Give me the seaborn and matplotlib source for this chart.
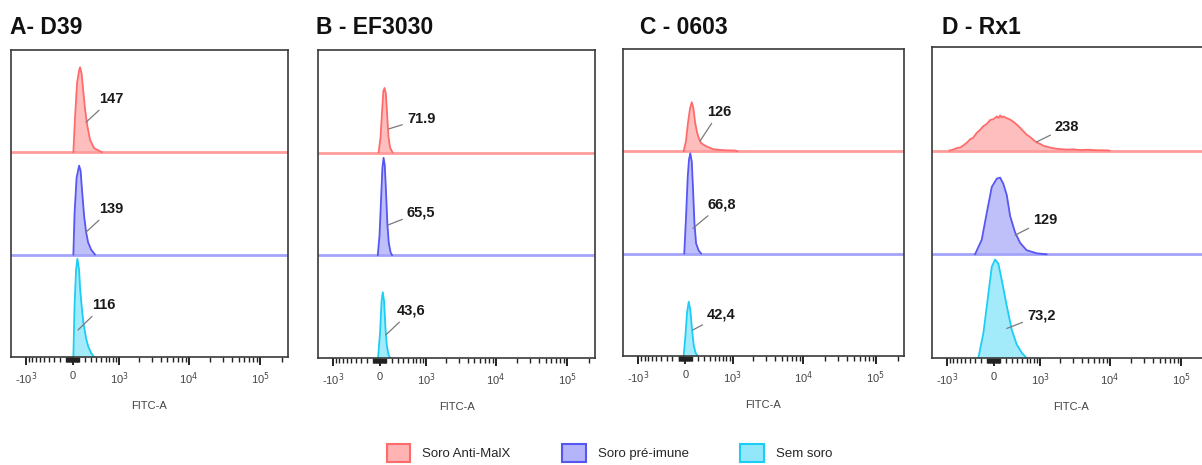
import numpy as np
import matplotlib
matplotlib.use("Agg")
import matplotlib.pyplot as plt
import seaborn as sns
from matplotlib.patches import Patch
from matplotlib.ticker import FixedLocator, FixedFormatter

sns.set_style("white")
plt.rcParams['font.family'] = ['Liberation Sans', 'DejaVu Sans']

# ---- data: FITC-A values and counts (% of lane height) ----
titles = ["A- D39", "B - EF3030", "C - 0603", "D - Rx1"]
series_names = ["Soro Anti-MalX", "Soro pré-imune", "Sem soro"]

a_anti_x = [12, 38, 69, 100, 115, 139, 162, 195, 229, 280, 354, 476, 520]
a_anti_h = [0, 35, 68, 80, 83, 77, 62, 42, 27, 12, 4, 1, 0]
a_pre_x = [12, 30, 61, 100, 123, 147, 179, 212, 246, 298, 372]
a_pre_h = [0, 40, 75, 87, 82, 62, 38, 22, 12, 5, 0]
a_sem_x = [12, 30, 53, 73, 100, 115, 147, 167, 212, 250, 298, 354]
a_sem_h = [0, 50, 85, 96, 85, 67, 45, 34, 18, 10, 4, 0]

b_anti_x = [-15, 15, 38, 58, 76, 95, 115, 136, 162, 204]
b_anti_h = [0, 15, 40, 60, 63, 58, 38, 16, 5, 0]
b_pre_x = [-27, 0, 23, 43, 61, 79, 100, 120, 142, 170, 195]
b_pre_h = [0, 20, 55, 85, 95, 88, 60, 30, 12, 3, 0]
b_sem_x = [-23, 8, 30, 49, 69, 89, 111, 139, 162]
b_sem_h = [0, 25, 55, 64, 55, 30, 12, 3, 0]

c_anti_x = [-27, 8, 38, 69, 95, 120, 147, 179, 212, 246, 298, 372, 476, 605, 777, 1085, 1190]
c_anti_h = [0, 10, 28, 42, 48, 42, 28, 18, 12, 8, 6, 4, 2, 1.5, 1, 0.8, 0]
c_pre_x = [-18, 8, 34, 53, 73, 95, 115, 136, 162, 204, 246]
c_pre_h = [0, 35, 75, 92, 98, 90, 62, 30, 10, 3, 0]
c_sem_x = [-27, 0, 23, 49, 73, 100, 126, 155, 187]
c_sem_h = [0, 20, 42, 53, 45, 25, 10, 3, 0]

d_anti_x = [-930, -800, -700, -610, -520, -450, -390, -330, -270, -212, -160, -100, -53, 0,
            50, 75, 100, 125, 150, 200, 263, 330, 400, 455, 530, 600, 680, 780, 880, 1000,
            1150, 1410, 1700, 1980, 2500, 3000, 3820, 5000, 6500, 9000, 10000]
d_anti_h = [0, 1, 2.5, 3, 5.5, 8, 11, 12.5, 17, 20, 23.5, 26, 29.5, 30.5,
            33, 31.5, 34, 32, 33, 31.5, 30, 27.5, 24.5, 22, 18.5, 15.5, 13.5, 10.5, 8, 6.5,
            4.5, 3, 2, 1.5, 1, 1.3, 0.6, 0.9, 0.4, 0.3, 0]
d_pre_x = [-298, -184, -104, -27, 49, 100, 151, 207, 263, 354, 455, 600, 882, 1260]
d_pre_h = [0, 14, 40, 65, 73, 74, 68, 57, 37, 21, 11, 4, 1, 0]
d_sem_x = [-240, -157, -79, -27, 23, 73, 126, 207, 293, 385, 490, 600]
d_sem_h = [0, 24, 62, 88, 95, 91, 75, 50, 27, 13, 5, 0]

a_labels = ["147", "139", "116"]
b_labels = ["71.9", "65,5", "43,6"]
c_labels = ["126", "66,8", "42,4"]
d_labels = ["238", "129", "73,2"]

# ---- styling ----
edges = ["#ff6b6b", "#5656f2", "#1ccdf5"]
fills = ["#ffb3b3", "#b4b4fa", "#93e7fb"]
base_cols = ["#ff9d9d", "#a3a3fb", None]

W = 470.0
XMIN, XMAX = -1680, 245000


def fwd(x):
    return np.arcsinh(np.asarray(x, dtype=float) / W)


def inv(y):
    return W * np.sinh(y)


panels = [
    (titles[0], [(a_anti_x, a_anti_h), (a_pre_x, a_pre_h), (a_sem_x, a_sem_h)], a_labels),
    (titles[1], [(b_anti_x, b_anti_h), (b_pre_x, b_pre_h), (b_sem_x, b_sem_h)], b_labels),
    (titles[2], [(c_anti_x, c_anti_h), (c_pre_x, c_pre_h), (c_sem_x, c_sem_h)], c_labels),
    (titles[3], [(d_anti_x, d_anti_h), (d_pre_x, d_pre_h), (d_sem_x, d_sem_h)], d_labels),
]

# box in pixels: left, top, width, height ; title x in pixels
boxes = [(11, 50, 277, 307), (318, 50, 277, 308), (623, 49, 281, 307), (932, 47, 277, 311)]
title_x = [10, 316, 640, 942]
# leader lines (axes fraction): point on curve, label position
ann_pos = [
    [((0.271, 0.765), (0.318, 0.840)), ((0.271, 0.407), (0.318, 0.482)), ((0.242, 0.088), (0.292, 0.169))],
    [((0.256, 0.744), (0.321, 0.776)), ((0.253, 0.432), (0.321, 0.474)), ((0.245, 0.075), (0.285, 0.153))],
    [((0.274, 0.700), (0.299, 0.795)), ((0.249, 0.416), (0.299, 0.493)), ((0.249, 0.085), (0.299, 0.134))],
    [((0.378, 0.695), (0.444, 0.743)), ((0.300, 0.395), (0.365, 0.444)), ((0.270, 0.095), (0.343, 0.138))],
]

FW, FH = 1202, 465
fig = plt.figure(figsize=(FW / 100, FH / 100), dpi=100)

major = [-1000, 0, 1000, 1e4, 1e5]
major_lbl = [r"-10$^3$", "0", r"10$^3$", r"10$^4$", r"10$^5$"]
minor = ([-m for m in range(100, 1000, 100)] + [-m for m in range(10, 100, 10)]
         + list(range(10, 100, 10)) + list(range(100, 1000, 100))
         + list(range(2000, 10000, 1000)) + list(range(20000, 100000, 10000)) + [200000])

for i, (title, curves, labels) in enumerate(panels):
    l, t, w, h = boxes[i]
    ax = fig.add_axes([l / FW, 1 - (t + h) / FH, w / FW, h / FH])
    ax.set_xscale('function', functions=(fwd, inv))

    for lane, (xs, hs) in enumerate(curves):
        base = 200 - 100 * lane
        y = base + np.array(hs, dtype=float)
        ax.fill_between(xs, base, y, color=fills[lane], lw=0, alpha=0.85)
        sns.lineplot(x=xs, y=y, ax=ax, color=edges[lane], lw=1.3,
                     sort=False, estimator=None)
        if base_cols[lane]:
            ax.axhline(base, color=base_cols[lane], lw=2, zorder=1)

    for (xy, xyt), lab in zip(ann_pos[i], labels):
        ax.annotate(lab, xy=xy, xycoords='axes fraction', xytext=xyt,
                    textcoords='axes fraction', ha='left', va='center',
                    fontsize=10.5, fontweight='bold', color='#1a1a1a',
                    arrowprops=dict(arrowstyle='-', color='#7a7a7a', lw=0.9,
                                    shrinkA=1, shrinkB=0))

    ax.set_xlim(XMIN, XMAX)
    ax.set_ylim(0, 300)
    ax.set_yticks([])
    ax.xaxis.set_major_locator(FixedLocator(major))
    ax.xaxis.set_major_formatter(FixedFormatter(major_lbl))
    ax.xaxis.set_minor_locator(FixedLocator(minor))
    ax.tick_params(axis='x', which='major', direction='out', length=6, width=1.4,
                   color='#222222', labelsize=8, labelcolor='#444444', pad=4, bottom=True)
    ax.tick_params(axis='x', which='minor', direction='out', length=3.5, width=1.0,
                   color='#222222', bottom=True)
    ax.set_xlabel("FITC-A", fontsize=8, color='#444444', labelpad=10)
    for s in ax.spines.values():
        s.set_color('#3a3a3a')
        s.set_linewidth(1.2)

    fig.text(title_x[i] / FW, 1 - 28 / FH, title, fontsize=16.5, fontweight='bold',
             ha='left', va='center', color='#111111')

handles = [Patch(facecolor=fills[k], edgecolor=edges[k], lw=1.5, label=series_names[k])
           for k in range(3)]
fig.legend(handles=handles, loc='center', bbox_to_anchor=(0.507, 1 - 453 / FH), ncol=3,
           frameon=False, fontsize=9.5, handlelength=1.8, handleheight=1.8,
           handletextpad=0.9, columnspacing=3.9)

fig.savefig("out.png", dpi=100)
